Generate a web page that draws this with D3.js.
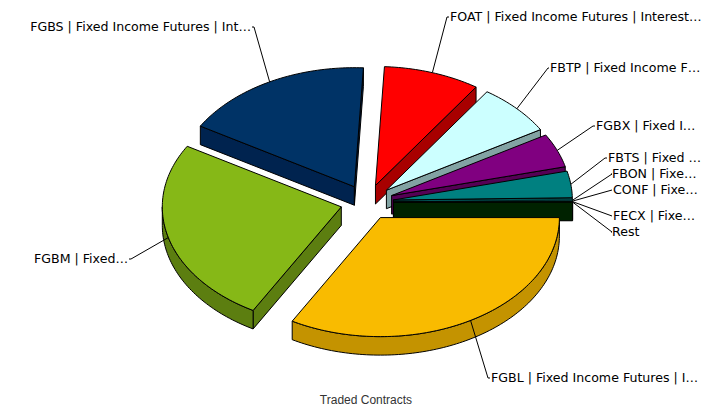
<!DOCTYPE html>
<html><head><meta charset="utf-8">
<script src="https://cdn.jsdelivr.net/npm/d3@7"></script>
<style>html,body{margin:0;background:#fff}svg{display:block}</style>
</head><body><svg id="c" width="723" height="408"></svg>
<script>
const labels=["FGBL | Fixed Income Futures | I…","FGBM | Fixed…","FGBS | Fixed Income Futures | Int…","FOAT | Fixed Income Futures | Interest…","FBTP | Fixed Income F…","FGBX | Fixed I…","FBTS | Fixed …","FBON | Fixe…","CONF | Fixe…","FECX | Fixe…","Rest"];
const values=[33.2,25.3,17.3,8.7,7.0,4.6,3.6,0.12,0.08,0.05,0.05];
const colors=["#F9BB00","#86B817","#003366","#FF0000","#CCFFFF","#800080","#008080","#006666","#339999","#003300","#002800"];
const sideColors=["#C49300","#5C7E10","#00234F","#A80000","#82A3A3","#550055","#005555","#004444","#226666","#002200","#002200"];
const elbows=[[488,378],[131,259],[254,27],[447,17],[548,68],[593,126],[605,158],[612,174],[612,190],[612,216],[612,232]];
const labelX=[491,128,251,450,550,596,608,612,613,613,612];
const title="Traded Contracts";

const cx=367,cy=202.3,rx=179,ratio=0.665,depth=18.5,explode=26.6;
const svg=d3.select("#c");
const pie=d3.pie().sort(null).startAngle(Math.PI/2).endAngle(Math.PI*2.5).value(d=>d);
const arcs=pie(values);
// d3 angle: 0 at north, clockwise
const pt=(x0,y0,a,r=rx)=>[x0+r*Math.sin(a),y0-r*ratio*Math.cos(a)];
const apexOf=d=>{const m=(d.startAngle+d.endAngle)/2;return pt(cx,cy,m,explode);};
const arcPts=(x0,y0,a0,a1)=>{const n=Math.max(2,Math.ceil(Math.abs(a1-a0)/0.02));return d3.range(n+1).map(i=>pt(x0,y0,a0+(a1-a0)*i/n));};
const line=d3.line();
// painter order: back (north) slices first, front last
const drawOrder=[3,4,2,5,6,7,8,9,10,1,0];
const g=svg.append("g").attr("stroke","#000").attr("stroke-width",1).attr("stroke-linejoin","round");
drawOrder.forEach(i=>{
  const d=arcs[i],[ax,ay]=apexOf(d),dk=sideColors[i];
  const sw=values[i]<1?0.4:1;
  const wall=pts=>g.append("path").attr("fill",dk).attr("stroke-width",i===10?1:sw).attr("d",line(pts.concat(pts.slice().reverse().map(p=>[p[0],p[1]+depth])))+"Z");
  const a0=d.startAngle,a1=d.endAngle;
  const visible=(a,side)=>-Math.cos(a+side*Math.PI/2)>0;
  if(visible(a0,-1)) wall([[ax,ay],pt(ax,ay,a0)]);
  if(visible(a1,1)) wall([[ax,ay],pt(ax,ay,a1)]);
  const lo=Math.max(a0,Math.PI/2),hi=Math.min(a1,Math.PI*1.5);
  if(hi>lo) wall(arcPts(ax,ay,lo,hi));
  g.append("path").attr("fill",colors[i]).attr("stroke-width",sw).attr("d",line([[ax,ay],...arcPts(ax,ay,a0,a1)])+"Z");
});
const lg=svg.append("g").attr("font-family","'DejaVu Sans',Verdana,sans-serif").attr("font-size",12.6).attr("fill","#000");
arcs.forEach((d,i)=>{
  const [ax,ay]=apexOf(d),m=(d.startAngle+d.endAngle)/2,s=pt(ax,ay,m),e=elbows[i],left=labelX[i]<e[0];
  svg.append("path").attr("fill","none").attr("stroke","#000").attr("d",line([s,e,[labelX[i]+(left?1:-1),e[1]]]));
  lg.append("text").attr("x",labelX[i]).attr("y",e[1]+4).attr("text-anchor",left?"end":"start").text(labels[i]);
});
svg.append("text").attr("x",366).attr("y",404).attr("text-anchor","middle").attr("font-family","'Liberation Sans',Arial,sans-serif").attr("font-size",12).attr("fill","#333").text(title);
</script></body></html>
